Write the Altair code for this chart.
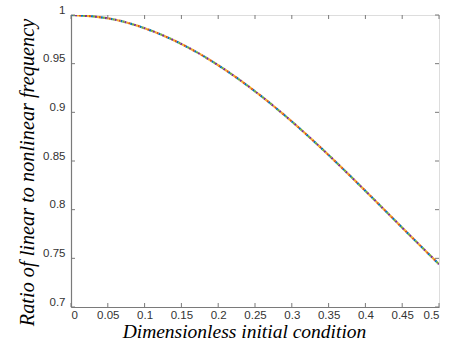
import altair as alt
import pandas as pd

# Data
x_vals = [0.0, 0.05, 0.1, 0.15, 0.2, 0.25, 0.3, 0.35, 0.4, 0.45, 0.5]
y_vals = [1.0, 0.9966, 0.9864, 0.9702, 0.9484, 0.9216, 0.8906, 0.8561, 0.8193, 0.7815, 0.744]
series = ["s1", "s2", "s3", "s4", "s5"]
colors = ["#0072BD", "#D95319", "#EDB120", "#7E2F8E", "#77AC30"]
x_ticks = [0, 0.05, 0.1, 0.15, 0.2, 0.25, 0.3, 0.35, 0.4, 0.45, 0.5]
y_ticks = [0.7, 0.75, 0.8, 0.85, 0.9, 0.95, 1.0]

W, H = 368, 292
GREY = "#7a7a7a"
SERIF = "Liberation Serif, Times New Roman, serif"
SANS = "Liberation Sans, Arial, sans-serif"

xs = alt.Scale(domain=[0, 0.5], nice=False)
ys = alt.Scale(domain=[0.7, 1.0], nice=False, zero=False)

x_axis = alt.Axis(
    values=x_ticks, format="~g", tickSize=0, grid=False,
    domainColor=GREY, domainWidth=1.2, labelColor="#333333",
    labelFont=SANS, labelFontSize=11.5, labelPadding=2,
    title="Dimensionless initial condition", titleFont=SERIF,
    titleFontStyle="italic", titleFontWeight="normal", titleFontSize=19.5,
    titleColor="#000000", titleX=173, titleY=30, titleBaseline="alphabetic",
    titleAnchor="middle", titleAlign="center",
)
y_axis = alt.Axis(
    values=y_ticks, format="~g", tickSize=0, grid=False,
    domainColor=GREY, domainWidth=1.2, labelColor="#333333",
    labelFont=SANS, labelFontSize=11.5, labelPadding=6, labelOffset=-5,
    title="Ratio of linear to nonlinear frequency", titleFont=SERIF,
    titleFontStyle="italic", titleFontWeight="normal", titleFontSize=20.3,
    titleColor="#000000", titleX=-38, titleY=157, titleBaseline="alphabetic",
    titleAngle=270, titleAlign="center",
)

layers = []
for i, (s, c) in enumerate(zip(series, colors)):
    df = pd.DataFrame({"x": x_vals, "y": y_vals})
    layers.append(
        alt.Chart(df).mark_line(
            color=c, strokeWidth=2.2, strokeDash=[2, 8], strokeDashOffset=2 * i,
            interpolate="natural", clip=True,
        ).encode(
            x=alt.X("x:Q", scale=xs, axis=x_axis),
            y=alt.Y("y:Q", scale=ys, axis=y_axis),
        )
    )

xt = pd.DataFrame({"x": x_ticks})
yt = pd.DataFrame({"y": y_ticks})
tick_len = 4
rule_kw = dict(color=GREY, strokeWidth=1)
layers += [
    alt.Chart(xt).mark_rule(**rule_kw).encode(
        x=alt.X("x:Q", scale=xs, axis=x_axis), y=alt.value(H), y2=alt.value(H - tick_len)),
    alt.Chart(xt).mark_rule(**rule_kw).encode(
        x=alt.X("x:Q", scale=xs, axis=x_axis), y=alt.value(0), y2=alt.value(tick_len)),
    alt.Chart(yt).mark_rule(**rule_kw).encode(
        y=alt.Y("y:Q", scale=ys, axis=y_axis), x=alt.value(0), x2=alt.value(tick_len)),
    alt.Chart(yt).mark_rule(**rule_kw).encode(
        y=alt.Y("y:Q", scale=ys, axis=y_axis), x=alt.value(W), x2=alt.value(W - tick_len)),
]

chart = alt.layer(*layers).properties(
    width=W, height=H,
    autosize=alt.AutoSizeParams(type="none"),
    padding={"left": 71, "top": 15, "right": 10, "bottom": 36},
).configure_view(stroke=GREY, strokeWidth=1.2).configure(background="white")

chart.save("out.html", embed_options={"renderer": "svg", "actions": False})
